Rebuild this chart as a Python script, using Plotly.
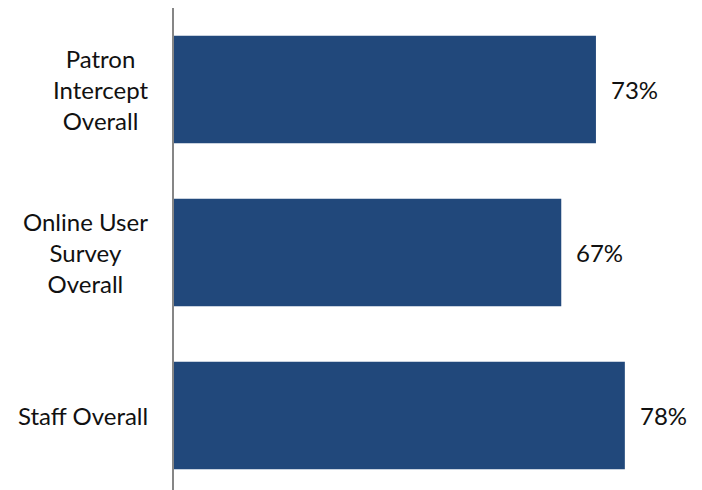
import plotly.graph_objects as go

categories = ["Patron<br>Intercept<br>Overall", "Online User<br>Survey<br>Overall", "Staff Overall"]
values = [0.73, 0.67, 0.78]
value_labels = ["73%", "67%", "78%"]

BAR_COLOR = "#21487B"
FONT = dict(family="Lato, 'Open Sans', sans-serif", size=24, color="#111111")

ypos = list(range(len(categories)))

fig = go.Figure(go.Bar(
    x=values,
    y=ypos,
    orientation="h",
    marker=dict(color=BAR_COLOR, line=dict(width=0)),
    width=0.66,
    hoverinfo="skip",
))

annotations = []
for y, cat in zip(ypos, categories):
    annotations.append(dict(
        x=0, y=y, xref="x", yref="y", text=cat, showarrow=False,
        xanchor="right", yanchor="middle", align="center", xshift=-24,
        font=FONT,
    ))
for y, v, lab in zip(ypos, values, value_labels):
    annotations.append(dict(
        x=v, y=y, xref="x", yref="y", text=lab, showarrow=False,
        xanchor="left", yanchor="middle", xshift=13,
        font=FONT,
    ))

fig.update_layout(
    width=702, height=490,
    margin=dict(l=174, r=0, t=8, b=0),
    paper_bgcolor="white", plot_bgcolor="white",
    showlegend=False,
    annotations=annotations,
    xaxis=dict(range=[0, 0.9135], visible=False, fixedrange=True),
    yaxis=dict(
        range=[2.457, -0.5], showticklabels=False, showgrid=False,
        zeroline=False, showline=True, linecolor="#868686", linewidth=2,
        ticks="",
    ),
)

fig.write_html("out.html")
